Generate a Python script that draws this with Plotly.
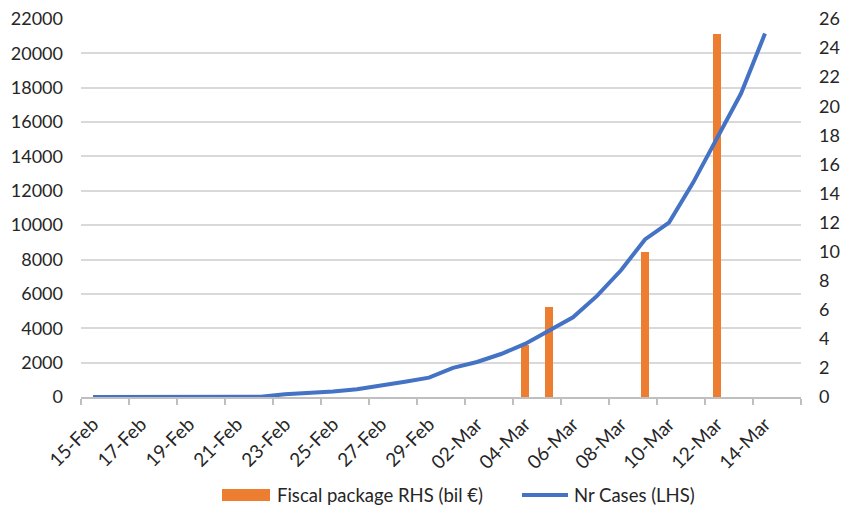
import pandas as pd
import plotly.graph_objects as go

# ---- data ----
case_dates = list(pd.date_range("2020-02-15", "2020-03-14", freq="D"))
cases = [3, 3, 3, 3, 3, 3, 3, 20, 155, 229, 322, 453, 655, 888, 1128,
         1694, 2036, 2502, 3089, 3858, 4636, 5883, 7375, 9172, 10149,
         12462, 15113, 17660, 21157]
fiscal_dates = ["2020-03-04", "2020-03-05", "2020-03-09", "2020-03-12"]
fiscal_values = [3.6, 6.2, 10, 25]
label_dates = list(pd.date_range("2020-02-15", "2020-03-14", freq="2D"))

W, H = 845, 511
ML, MR, MT, MB = 81, 44, 19, 114
PW, PH = W - ML - MR, H - MT - MB

FONT = "Lato"
TXT = "#262626"
ORANGE = "#ED7D31"
BLUE = "#4472C4"
GRID = "#d9d9d9"
FS = 18

def px_x(p):
    return (p - ML) / PW

def px_y(p):
    return (H - MB - p) / PH

fig = go.Figure()
fig.add_trace(go.Bar(x=fiscal_dates, y=fiscal_values, yaxis="y",
                     marker=dict(color=ORANGE, line=dict(width=0)),
                     width=0.35 * 86400000, name="Fiscal package RHS (bil €)"))
fig.add_trace(go.Scatter(x=case_dates, y=cases, yaxis="y2", mode="lines",
                         line=dict(color=BLUE, width=4), name="Nr Cases (LHS)"))

start = pd.Timestamp("2020-02-14 12:00")
end = pd.Timestamp("2020-03-15 12:00")
minor_vals = [start + pd.Timedelta(days=2 * k) for k in range(16)]

fig.update_layout(
    width=W, height=H,
    margin=dict(l=ML, r=MR, t=MT, b=MB, autoexpand=False),
    paper_bgcolor="white", plot_bgcolor="white",
    showlegend=False,
    font=dict(family=FONT, size=FS, color=TXT),
    bargap=0,
    xaxis=dict(type="date", range=[start, end], automargin=False,
               tickvals=label_dates, tickformat="%d-%b", tickangle=-45,
               ticks="", showgrid=False, zeroline=False,
               showline=True, linecolor="#bfbfbf", linewidth=1.5,
               ticklabelstandoff=7,
               tickfont=dict(size=19),
               minor=dict(tickvals=minor_vals, ticks="outside", ticklen=6,
                          tickcolor="#bfbfbf", tickwidth=1.5, showgrid=False)),
    yaxis=dict(side="right", range=[0, 26], dtick=2, showgrid=False,
               automargin=False,
               zeroline=False, ticks="", ticklabelstandoff=17,
               tickfont=dict(size=FS)),
    yaxis2=dict(side="left", overlaying="y", range=[0, 22000], dtick=2000,
                automargin=False,
                showgrid=True, gridcolor=GRID, gridwidth=1.5, zeroline=False,
                ticks="", ticklabelstandoff=17, tickformat="d",
                tickfont=dict(size=FS)),
)

# legend drawn as shapes + text
LFS = 18.5
fig.add_shape(type="rect", xref="paper", yref="paper",
              x0=px_x(222), x1=px_x(270), y0=px_y(501), y1=px_y(489),
              fillcolor=ORANGE, line=dict(width=0))
fig.add_annotation(xref="paper", yref="paper", x=px_x(275), y=px_y(495),
                   text="Fiscal package RHS (bil €)", showarrow=False,
                   xanchor="left", yanchor="middle", font=dict(size=LFS, color=TXT))
fig.add_shape(type="line", xref="paper", yref="paper",
              x0=px_x(522), x1=px_x(568), y0=px_y(495), y1=px_y(495),
              line=dict(color=BLUE, width=4))
fig.add_annotation(xref="paper", yref="paper", x=px_x(572), y=px_y(495),
                   text="Nr Cases (LHS)", showarrow=False,
                   xanchor="left", yanchor="middle", font=dict(size=LFS, color=TXT))

fig.write_html("out.html", config={"displayModeBar": False},
               post_script="document.body.style.margin='0px';document.body.style.overflow='hidden';")
